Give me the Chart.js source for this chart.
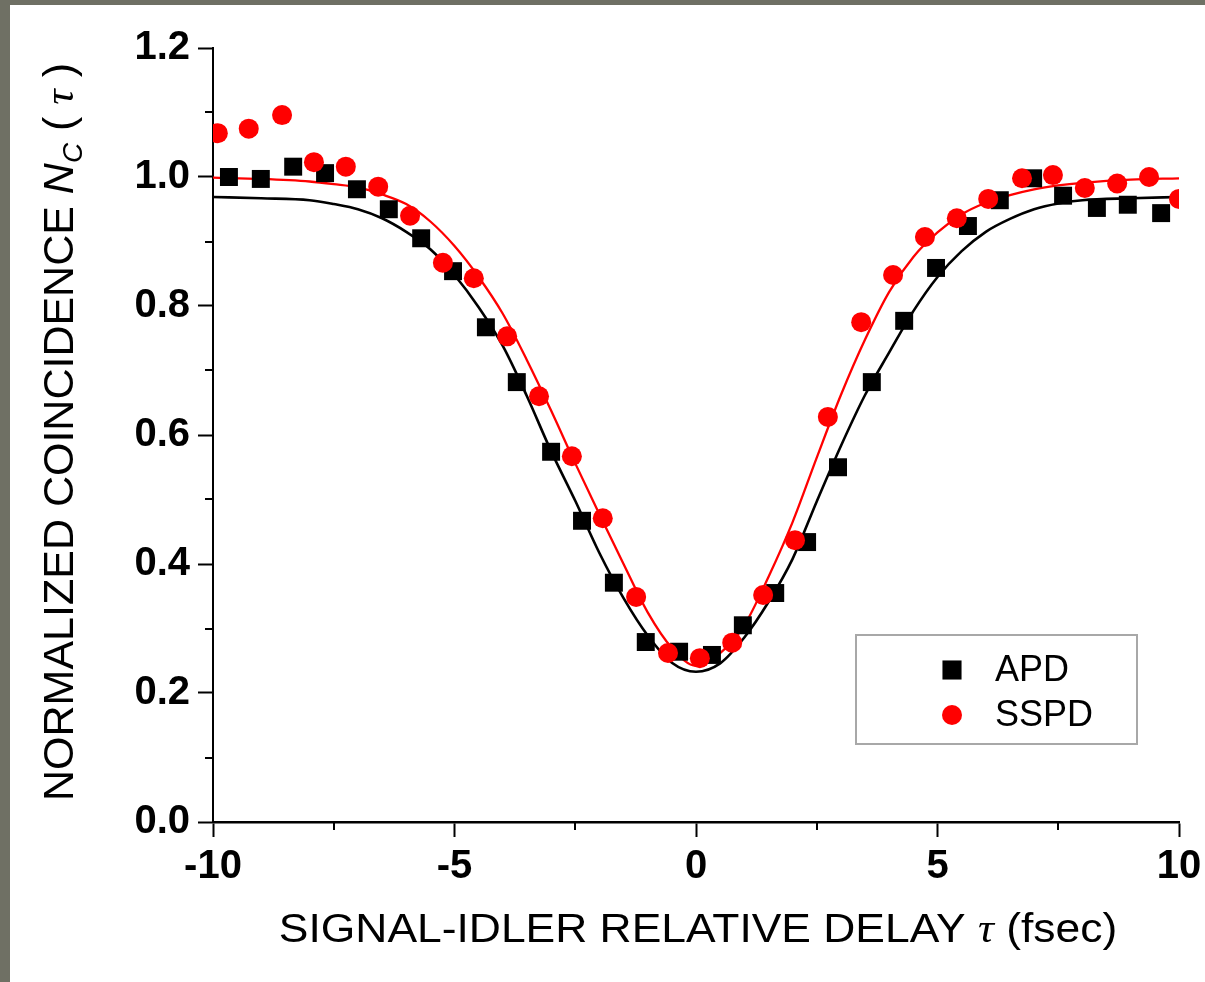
<!DOCTYPE html>
<html>
<head>
<meta charset="utf-8">
<script src="https://cdn.jsdelivr.net/npm/chart.js@4.4.0/dist/chart.umd.min.js"></script>
<style>
  html, body { margin: 0; padding: 0; }
  body { background: #6f7064; width: 1205px; height: 982px; overflow: hidden; }
  #panel { position: absolute; left: 10px; top: 5px; width: 1195px; height: 977px; background: #fff; }
</style>
</head>
<body>
<div id="panel"><canvas id="chart" width="1195" height="977"></canvas></div>
<script>
const apdTau = [-9.67, -9.01, -8.34, -7.68, -7.02, -6.36, -5.69, -5.03, -4.35, -3.71,
                -3.00, -2.36, -1.70, -1.04, -0.35, 0.33, 0.97, 1.64, 2.30, 2.94,
                3.64, 4.31, 4.97, 5.63, 6.29, 6.98, 7.60, 8.30, 8.94, 9.63];
const apdNc = [1.000, 0.997, 1.016, 1.006, 0.981, 0.950, 0.905, 0.854, 0.767, 0.682,
               0.574, 0.467, 0.371, 0.279, 0.264, 0.259, 0.305, 0.355, 0.434, 0.550,
               0.682, 0.777, 0.859, 0.924, 0.964, 0.998, 0.971, 0.952, 0.957, 0.944];
const sspdTau = [-9.90, -9.26, -8.57, -7.91, -7.25, -6.58, -5.92, -5.24, -4.60, -3.91,
                 -3.25, -2.57, -1.93, -1.24, -0.58, 0.08, 0.75, 1.39, 2.05, 2.73,
                 3.42, 4.08, 4.74, 5.40, 6.05, 6.75, 7.39, 8.05, 8.72, 9.38, 10.0];
const sspdNc = [1.068, 1.075, 1.096, 1.023, 1.016, 0.985, 0.940, 0.867, 0.843, 0.753,
                0.660, 0.567, 0.471, 0.349, 0.262, 0.254, 0.278, 0.352, 0.437, 0.628,
                0.775, 0.848, 0.907, 0.936, 0.966, 0.998, 1.003, 0.983, 0.990, 1.000, 0.966];

// fit curves, sampled off the figure
const fitTau = [-10, -9, -8, -7.5, -7, -6.5, -6, -5.5, -5, -4.5, -4, -3.5, -3, -2.5, -2, -1.5, -1, -0.5,
                0, 0.5, 1, 1.5, 2, 2.5, 3, 3.5, 4, 4.5, 5, 5.5, 6, 6.5, 7, 7.5, 8, 9, 10];
const apdFit = [0.969, 0.967, 0.964, 0.958, 0.950, 0.936, 0.915, 0.888, 0.848, 0.798, 0.738, 0.660, 0.575, 0.498, 0.417, 0.347, 0.289, 0.247,
                0.233, 0.246, 0.286, 0.341, 0.408, 0.497, 0.583, 0.662, 0.728, 0.792, 0.845, 0.885, 0.915, 0.935, 0.950, 0.959, 0.964, 0.967, 0.969];
const sspdFit = [0.999, 0.997, 0.993, 0.989, 0.984, 0.973, 0.958, 0.931, 0.893, 0.845, 0.788, 0.716, 0.638, 0.556, 0.477, 0.400, 0.325, 0.270,
                 0.242, 0.262, 0.305, 0.380, 0.465, 0.565, 0.662, 0.748, 0.822, 0.876, 0.914, 0.942, 0.960, 0.972, 0.981, 0.987, 0.991, 0.996, 0.998];

// axes
const xTicks = [-10, -5, 0, 5, 10];
const xMinor = [-7.5, -2.5, 2.5, 7.5];
const yTicks = [0, 0.2, 0.4, 0.6, 0.8, 1.0, 1.2];
const yTickLabels = ['0.0', '0.2', '0.4', '0.6', '0.8', '1.0', '1.2'];
const yMinor = [0.1, 0.3, 0.5, 0.7, 0.9, 1.1];

const SANS = "'Liberation Sans', Arial, sans-serif";
const SERIF = "'Liberation Serif', 'Times New Roman', serif";

const pairs = (xs, ys) => xs.map((x, i) => ({ x: x, y: ys[i] }));

// draws a run of differently styled pieces of text centered on (0, 0)
const drawRich = (ctx, parts, stretch) => {
    let total = 0;
    parts.forEach(p => { ctx.font = p.font; p.w = ctx.measureText(p.text).width; total += p.w; });
    ctx.save();
    ctx.scale(stretch, 1);
    let x = -total / 2;
    ctx.textBaseline = 'alphabetic';
    ctx.textAlign = 'left';
    parts.forEach(p => {
        ctx.font = p.font;
        ctx.fillText(p.text, x, p.dy || 0);
        x += p.w;
    });
    ctx.restore();
};

const extras = {
    id: 'extras',
    afterDraw(chart) {
        const ctx = chart.ctx;
        const area = chart.chartArea;
        const xs = chart.scales.x;
        const ys = chart.scales.y;
        ctx.save();
        ctx.strokeStyle = '#000';
        ctx.fillStyle = '#000';
        ctx.lineWidth = 2;

        // minor ticks
        ctx.beginPath();
        yMinor.forEach(v => {
            const py = Math.round(ys.getPixelForValue(v));
            ctx.moveTo(area.left - 8, py);
            ctx.lineTo(area.left, py);
        });
        xMinor.forEach(v => {
            const px = Math.round(xs.getPixelForValue(v));
            ctx.moveTo(px, area.bottom);
            ctx.lineTo(px, area.bottom + 8);
        });
        ctx.stroke();

        // y title
        ctx.save();
        ctx.translate(area.left - 140, (area.top + area.bottom) / 2 - 3);
        ctx.rotate(-Math.PI / 2);
        drawRich(ctx, [
            { text: 'NORMALIZED COINCIDENCE ', font: '43px ' + SANS },
            { text: 'N', font: 'italic 43px ' + SANS },
            { text: 'C', font: 'italic 28px ' + SANS, dy: 9 },
            { text: ' ( ', font: '43px ' + SANS },
            { text: '\u03C4', font: 'italic 43px ' + SERIF },
            { text: ' )', font: '43px ' + SANS }
        ], 1);
        ctx.restore();

        // x title
        ctx.save();
        ctx.translate((area.left + area.right) / 2 + 2, area.bottom + 120);
        drawRich(ctx, [
            { text: 'SIGNAL-IDLER RELATIVE DELAY ', font: '40px ' + SANS },
            { text: '\u03C4', font: 'italic 40px ' + SERIF },
            { text: ' (fsec)', font: '40px ' + SANS }
        ], 1.11);
        ctx.restore();

        // legend box
        const bx = area.right - 323, by = area.bottom - 187, bw = 281, bh = 109;
        ctx.strokeStyle = '#a8a8a8';
        ctx.lineWidth = 2;
        ctx.strokeRect(bx, by, bw, bh);
        const entries = chart.data.datasets
            .filter(d => d.legendRank !== undefined)
            .sort((a, b) => a.legendRank - b.legendRank);
        entries.forEach((d, i) => {
            const cy = by + 35 + i * 45;
            ctx.fillStyle = d.backgroundColor;
            Chart.helpers.drawPoint(ctx, {
                pointStyle: d.pointStyle,
                radius: d.pointStyle === 'rect' ? 13.5 : 10,
                borderWidth: 0,
                rotation: 0
            }, bx + 96, cy);
            ctx.fillStyle = '#000';
            ctx.font = '36px ' + SANS;
            ctx.textAlign = 'left';
            ctx.textBaseline = 'middle';
            ctx.fillText(d.label, bx + 139, cy + 1);
        });
        ctx.restore();
    }
};

new Chart(document.getElementById('chart'), {
    type: 'scatter',
    data: {
        datasets: [
            {
                label: 'SSPD', legendRank: 1, order: 0,
                data: pairs(sspdTau, sspdNc),
                pointStyle: 'circle', pointRadius: 10, borderWidth: 0,
                backgroundColor: '#ff0000', borderColor: '#ff0000'
            },
            {
                label: 'APD', legendRank: 0, order: 1,
                data: pairs(apdTau, apdNc),
                pointStyle: 'rect', pointRadius: 12.7, borderWidth: 0,
                backgroundColor: '#000000', borderColor: '#000000'
            },
            {
                label: 'SSPD fit', order: 2,
                data: pairs(fitTau, sspdFit),
                showLine: true, pointRadius: 0, borderWidth: 2.3,
                borderColor: '#ff0000', cubicInterpolationMode: 'monotone'
            },
            {
                label: 'APD fit', order: 3,
                data: pairs(fitTau, apdFit),
                showLine: true, pointRadius: 0, borderWidth: 2.6,
                borderColor: '#000000', cubicInterpolationMode: 'monotone'
            }
        ]
    },
    options: {
        responsive: false,
        animation: false,
        events: [],
        devicePixelRatio: 1,
        layout: { padding: { left: 0, top: 43, right: 26, bottom: 0 } },
        plugins: { legend: { display: false }, tooltip: { enabled: false } },
        scales: {
            x: {
                type: 'linear', min: -10, max: 10,
                afterBuildTicks: s => { s.ticks = xTicks.map(v => ({ value: v })); },
                afterFit: s => { s.height = 160; s.paddingLeft = 0; s.paddingRight = 0; },
                border: { display: true, color: '#000', width: 2.5 },
                grid: { display: true, drawOnChartArea: false, drawTicks: true, tickLength: 15, tickWidth: 2, tickColor: '#000' },
                ticks: {
                    color: '#000', padding: 6, maxRotation: 0, autoSkip: false,
                    font: { family: SANS, size: 40, weight: 'bold' },
                    callback: v => String(v)
                }
            },
            y: {
                type: 'linear', min: 0, max: 1.2,
                afterBuildTicks: s => { s.ticks = yTicks.map(v => ({ value: v })); },
                afterFit: s => { s.width = 203; s.paddingTop = 0; s.paddingBottom = 0; },
                border: { display: true, color: '#000', width: 2 },
                grid: { display: true, drawOnChartArea: false, drawTicks: true, tickLength: 15, tickWidth: 2, tickColor: '#000' },
                ticks: {
                    color: '#000', padding: 8, autoSkip: false,
                    font: { family: SANS, size: 40, weight: 'bold' },
                    callback: (v, i) => yTickLabels[i]
                }
            }
        }
    },
    plugins: [extras]
});
</script>
</body>
</html>
